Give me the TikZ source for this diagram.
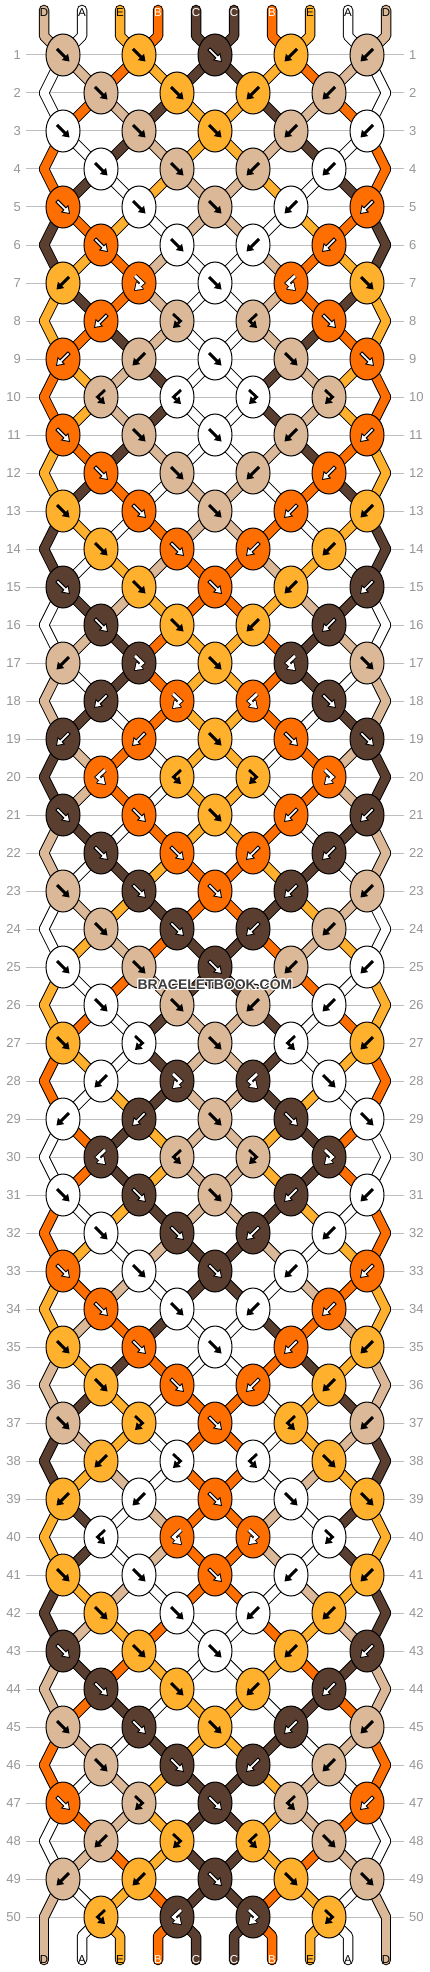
\documentclass[tikz,border=0pt]{standalone}
\usepackage{fontspec}
\setmainfont{Liberation Sans}
\definecolor{cD}{HTML}{DAB898}
\definecolor{cA}{HTML}{FFFFFF}
\definecolor{cE}{HTML}{FFB12E}
\definecolor{cB}{HTML}{FF6E00}
\definecolor{cC}{HTML}{5A3E30}
\definecolor{gridgray}{HTML}{BEBEBE}
\definecolor{labgray}{HTML}{969696}
\definecolor{wmgray}{HTML}{3C3C3C}
\def\darkD{0}\def\darkA{0}\def\darkE{0}\def\darkB{1}\def\darkC{1}
\def\txtD{black}\def\txtA{black}\def\txtE{black}\def\txtB{white}\def\txtC{white}
\tikzset{
 segline/.style={line width=10.5pt, draw=black, line cap=round, line join=round},
 segcol/.style={line width=8.5pt, line cap=round, line join=round},
 knotshape/.style={draw=black, line width=1pt},
 gridline/.style={draw=gridgray, line width=1pt},
 rowlab/.style={text=labgray, font=\fontsize{13}{13}\selectfont, inner sep=0pt},
 strlab/.style={font=\fontsize{11.5}{12}\selectfont, inner sep=0pt},
 wmtext/.style={font=\bfseries\fontsize{14}{14}\selectfont, inner sep=0pt},
}
\newcommand\setst[2]{\expandafter\xdef\csname bst#1\endcsname{#2}}
\newcommand\getst[1]{\csname bst#1\endcsname}
\newcommand\knotx[3]{\ifodd#2\relax\pgfmathsetmacro#1{63+38*(#3-mod(#3,2))}\else\ifnum#3=0\relax\def#1{44}\else\ifnum#3=9\relax\def#1{386}\else\pgfmathsetmacro#1{63+38*(#3-1+mod(#3,2))}\fi\fi\fi}
\newcommand\drawglyph[5]{%
 \begin{scope}[shift={(#1,#2)},xscale=#3]
 \ifnum#4=0\relax
   \ifnum#5=1\relax
     \filldraw[fill=white,draw=black,line width=0.9pt,line join=miter] (-4.94,-7.06) -- (2.96,0.84) -- (5.08,-1.28) -- (6.5,6.5) -- (-1.28,5.08) -- (0.84,2.96) -- (-7.06,-4.94) -- cycle;
   \else
     \fill[black] (-4.94,-7.06) -- (2.96,0.84) -- (5.08,-1.28) -- (6.5,6.5) -- (-1.28,5.08) -- (0.84,2.96) -- (-7.06,-4.94) -- cycle;
   \fi
 \else
   \ifnum#5=1\relax
     \filldraw[black,line width=1.8pt,line join=round] (-4,7) -- (3.82,5.86) -- (-2.32,-0.72) -- cycle;
     \draw[black,line width=4.6pt,line cap=square] (-4,-7) -- (3.5,0) -- (0.75,2.57);
     \fill[white] (-4,7) -- (3.82,5.86) -- (-2.32,-0.72) -- cycle;
     \draw[white,line width=2.8pt] (-4,-7) -- (3.5,0) -- (0.75,2.57);
   \else
     \fill[black] (-4,7) -- (3.82,5.86) -- (-2.32,-0.72) -- cycle;
     \draw[black,line width=2.8pt] (-4,-7) -- (3.5,0) -- (0.75,2.57);
   \fi
 \fi
 \end{scope}}
\newcommand\drawknotreal[5]{%
 \path[knotshape, fill=c#3] (#1,#2) ellipse [x radius=17, y radius=21];
 \drawglyph{#1}{#2}{#4}{#5}{\csname dark#3\endcsname}}
\newcommand\segoutline[2]{\draw[segline] #1;}
\newcommand\segfilling[2]{\draw[segcol, draw=#2] #1;}
\let\drawseg\relax
\let\drawknot\relax
\gdef\seglist{}
\gdef\knotlist{}
\newcommand\knot[3]{%
 \edef\kL{\getst{#2}}%
 \pgfmathtruncatemacro\pR{#2+1}%
 \edef\kR{\getst{\pR}}%
 \if#3f\edef\kc{\kL}\def\kmir{1}\def\khook{0}\setst{#2}{\kR}\setst{\pR}{\kL}\fi
 \if#3b\edef\kc{\kR}\def\kmir{-1}\def\khook{0}\setst{#2}{\kR}\setst{\pR}{\kL}\fi
 \if#3F\edef\kc{\kL}\def\kmir{1}\def\khook{1}\fi
 \if#3B\edef\kc{\kR}\def\kmir{-1}\def\khook{1}\fi
 \pgfmathsetmacro\kx{63+38*#2}\pgfmathsetmacro\ky{55+38*(#1-1)}%
 \xdef\knotlist{\knotlist\drawknot{\kx}{\ky}{\kc}{\kmir}{\khook}}}
\newcommand\segrow[1]{%
 \pgfmathtruncatemacro\rn{#1+1}%
 \pgfmathsetmacro\ya{55+38*(#1-1)}\pgfmathsetmacro\yb{\ya+38}%
 \foreach \q in {0,...,9}{%
   \knotx\xa{#1}{\q}\knotx\xb{\rn}{\q}%
   \edef\scol{c\getst{\q}}%
   \xdef\seglist{\seglist\drawseg{(\xa,\ya) -- (\xb,\yb)}{\scol}}%
 }}
\newcommand\oddrow[6]{\knot{#1}{0}{#2}\knot{#1}{2}{#3}\knot{#1}{4}{#4}\knot{#1}{6}{#5}\knot{#1}{8}{#6}\segrow{#1}}
\newcommand\evenrow[5]{\knot{#1}{1}{#2}\knot{#1}{3}{#3}\knot{#1}{5}{#4}\knot{#1}{7}{#5}\ifnum#1<50\relax\segrow{#1}\fi}
\begin{document}
\begin{tikzpicture}[x=1pt,y=-1pt]
\useasboundingbox (0,0) rectangle (430,1972);
\fill[white] (0,0) rectangle (430,1972);
\foreach \r in {1,...,50}{\pgfmathsetmacro\yy{55+38*(\r-1)}\draw[gridline] (26,\yy) -- (404,\yy);}
\foreach \r in {1,...,50}{\pgfmathsetmacro\yy{55+38*(\r-1)}%
 \node[rowlab, anchor=east] (rl\r) at (21,\yy) {\r};
 \node[rowlab, anchor=west] (rr\r) at (409,\yy) {\r};}
% initial strings
\foreach \lt [count=\q from 0] in {D,A,E,B,C,C,B,E,A,D}{\setst{\q}{\lt}}
\foreach \q in {0,...,9}{%
 \pgfmathsetmacro\xq{44+38*\q}\knotx\xa{1}{\q}%
 \edef\scol{c\getst{\q}}%
 \xdef\seglist{\seglist\drawseg{(\xq,10) -- (\xq,36) -- (\xa,55)}{\scol}}}
\oddrow{1}{f}{f}{f}{b}{b}
\evenrow{2}{f}{f}{b}{b}
\oddrow{3}{f}{f}{f}{b}{b}
\evenrow{4}{f}{f}{b}{b}
\oddrow{5}{f}{f}{f}{b}{b}
\evenrow{6}{f}{f}{b}{b}
\oddrow{7}{b}{F}{f}{B}{f}
\evenrow{8}{b}{F}{B}{f}
\oddrow{9}{b}{b}{f}{f}{f}
\evenrow{10}{B}{B}{F}{F}
\oddrow{11}{f}{f}{f}{b}{b}
\evenrow{12}{f}{f}{b}{b}
\oddrow{13}{f}{f}{f}{b}{b}
\evenrow{14}{f}{f}{b}{b}
\oddrow{15}{f}{f}{f}{b}{b}
\evenrow{16}{f}{f}{b}{b}
\oddrow{17}{b}{F}{f}{B}{f}
\evenrow{18}{b}{F}{B}{f}
\oddrow{19}{b}{b}{f}{f}{f}
\evenrow{20}{B}{B}{F}{F}
\oddrow{21}{f}{f}{f}{b}{b}
\evenrow{22}{f}{f}{b}{b}
\oddrow{23}{f}{f}{f}{b}{b}
\evenrow{24}{f}{f}{b}{b}
\oddrow{25}{f}{f}{f}{b}{b}
\evenrow{26}{f}{f}{b}{b}
\oddrow{27}{f}{F}{f}{B}{b}
\evenrow{28}{b}{F}{B}{f}
\oddrow{29}{b}{b}{f}{f}{f}
\evenrow{30}{B}{B}{F}{F}
\oddrow{31}{f}{f}{f}{b}{b}
\evenrow{32}{f}{f}{b}{b}
\oddrow{33}{f}{f}{f}{b}{b}
\evenrow{34}{f}{f}{b}{b}
\oddrow{35}{f}{f}{f}{b}{b}
\evenrow{36}{f}{f}{b}{b}
\oddrow{37}{f}{F}{f}{B}{b}
\evenrow{38}{b}{F}{B}{f}
\oddrow{39}{b}{b}{f}{f}{f}
\evenrow{40}{B}{B}{F}{F}
\oddrow{41}{f}{f}{f}{b}{b}
\evenrow{42}{f}{f}{b}{b}
\oddrow{43}{f}{f}{f}{b}{b}
\evenrow{44}{f}{f}{b}{b}
\oddrow{45}{f}{f}{f}{b}{b}
\evenrow{46}{f}{f}{b}{b}
\oddrow{47}{f}{F}{f}{B}{b}
\evenrow{48}{b}{F}{B}{f}
\oddrow{49}{b}{b}{f}{f}{f}
\evenrow{50}{B}{B}{F}{F}
% bottom strings
\foreach \q in {0,...,9}{%
 \pgfmathsetmacro\xq{44+38*\q}\knotx\xa{50}{\q}%
 \edef\scol{c\getst{\q}}%
 \xdef\seglist{\seglist\drawseg{(\xa,1917) -- (\xq,1936) -- (\xq,1960)}{\scol}}}
% draw: outlines, fills, knots
\let\drawseg\segoutline \seglist
\let\drawseg\segfilling \seglist
\let\drawknot\drawknotreal \knotlist
% string labels (top and bottom)
\foreach \lt [count=\q from 0] in {D,A,E,B,C,C,B,E,A,D}{%
 \pgfmathsetmacro\xq{44+38*\q}%
 \edef\tcol{\csname txt\lt\endcsname}%
 \node[strlab, text=\tcol] (top\q) at (\xq,13) {\lt};}
\foreach \q in {0,...,9}{%
 \pgfmathsetmacro\xq{44+38*\q}%
 \edef\tcol{\csname txt\getst{\q}\endcsname}\edef\lt{\getst{\q}}%
 \node[strlab, text=\tcol] (bot\q) at (\xq,1960) {\lt};}
% watermark
\foreach \dx/\dy [count=\i] in {-1/0,1/0,0/-1,0/1,-1/-1,1/1,-1/1,1/-1}{%
 \node[wmtext, text=white, shift={(\dx,\dy)}] (halo\i) at (215,985) {BRACELETBOOK.COM};}
\node[wmtext, text=wmgray] (wm) at (215,985) {BRACELETBOOK.COM};
\end{tikzpicture}
\end{document}
